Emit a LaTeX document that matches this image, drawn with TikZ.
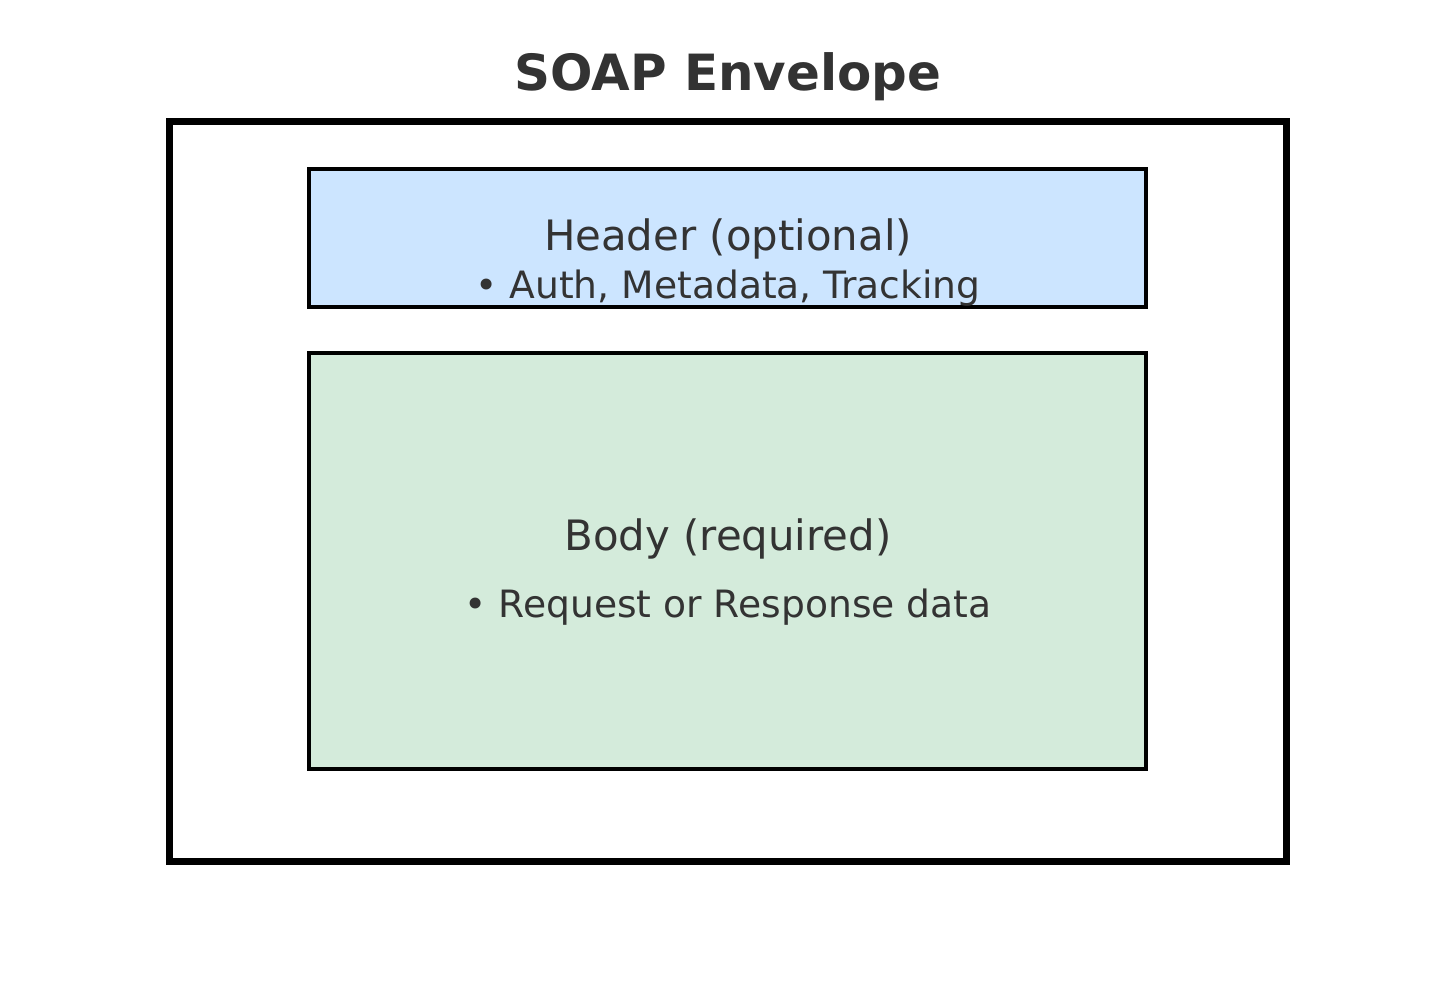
\documentclass[tikz,border=0pt]{standalone}
\usepackage{fontspec}
\setmainfont{DejaVu Sans}
\usetikzlibrary{positioning}

\definecolor{headerblue}{HTML}{CCE5FF}
\definecolor{bodygreen}{HTML}{D4EBDB}
\definecolor{textgray}{HTML}{333333}

\tikzset{
  part/.style={draw=black, line width=1.1pt, inner sep=0pt},
  label/.style={text=textgray, anchor=base, inner sep=0pt}
}

\begin{document}
\begin{tikzpicture}[x=0.01cm, y=-0.01cm]
        \useasboundingbox (0,0) rectangle (1455,984);

        % envelope
        \node (env) at (728,491.5) [draw=black, line width=1.9pt, minimum width=11.16cm, minimum height=7.39cm, inner sep=0pt] {};
        \node (title) at (728,90) [label, font=\fontsize{14.2}{17}\selectfont\bfseries] {SOAP Envelope};

        % header
        \node (header) at (727.5,238) [part, fill=headerblue, minimum width=8.37cm, minimum height=1.38cm] {};
        \node (headtxt) at (728,250) [label, font=\fontsize{11.9}{14}\selectfont] {Header (optional)};
        \node (headitem) at (728,298) [label, font=\fontsize{10.7}{13}\selectfont] {\textbullet\ Auth, Metadata, Tracking};

        % body
        \node (body) at (727.5,561) [part, fill=bodygreen, minimum width=8.37cm, minimum height=4.16cm] {};
        \node (bodytxt) at (728,550) [label, font=\fontsize{11.9}{14}\selectfont] {Body (required)};
        \node (bodyitem) at (728,617) [label, font=\fontsize{10.7}{13}\selectfont] {\textbullet\ Request or Response data};
    \end{tikzpicture}
\end{document}
